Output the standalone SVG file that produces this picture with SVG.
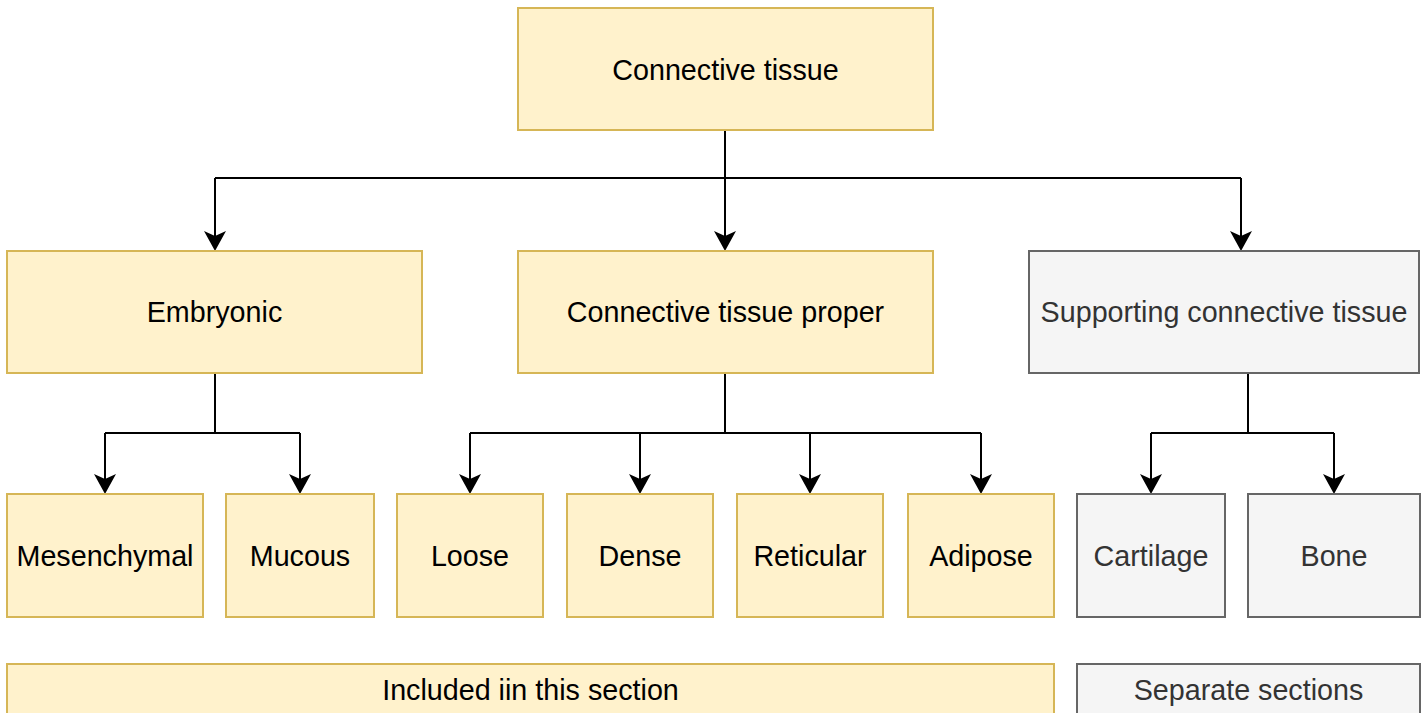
<svg xmlns="http://www.w3.org/2000/svg" width="1427" height="713" viewBox="0 0 1427 713">
  <style>
    .inc rect { fill: #fff2cc; stroke: #d6b656; stroke-width: 2; }
    .sep rect { fill: #f5f5f5; stroke: #666666; stroke-width: 2; }
    text { font-family: "Liberation Sans", Arial, Helvetica, sans-serif; font-size: 28.7px; text-anchor: middle; }
    .inc text { fill: #000000; }
    .sep text { fill: #333333; }
    .edge { fill: none; stroke: #000000; stroke-width: 2; marker-end: url(#arrow); }
    .trunk { fill: none; stroke: #000000; stroke-width: 2; }
  </style>
  <defs>
    <marker id="arrow" markerUnits="userSpaceOnUse" viewBox="0 0 22 22" markerWidth="22" markerHeight="22" refX="5" refY="11" orient="auto">
      <path d="M0,0 L20,11 L0,22 L5,11 Z" fill="#000000"/>
    </marker>
  </defs>

  <rect width="1427" height="713" fill="#ffffff"/>

  <!-- connectors -->
  <g id="connectors">
    <!-- root to level 2 -->
    <path class="trunk" d="M725,130 V178 M215,178 H1241"/>
    <path class="edge" d="M725,178 V236"/>
    <path class="edge" d="M215,178 V236"/>
    <path class="edge" d="M1241,178 V236"/>
    <!-- embryonic -->
    <path class="trunk" d="M215,373 V433 M105,433 H300"/>
    <path class="edge" d="M105,433 V479"/>
    <path class="edge" d="M300,433 V479"/>
    <!-- connective tissue proper -->
    <path class="trunk" d="M725,373 V433 M470,433 H981"/>
    <path class="edge" d="M470,433 V479"/>
    <path class="edge" d="M640,433 V479"/>
    <path class="edge" d="M810,433 V479"/>
    <path class="edge" d="M981,433 V479"/>
    <!-- supporting connective tissue -->
    <path class="trunk" d="M1248,373 V433 M1151,433 H1334"/>
    <path class="edge" d="M1151,433 V479"/>
    <path class="edge" d="M1334,433 V479"/>
  </g>

  <g id="connective-tissue" class="inc">
    <rect x="518" y="8" width="415" height="122"/>
    <text x="725.5" y="79.5">Connective tissue</text>
  </g>

  <g id="embryonic" class="inc">
    <rect x="7" y="251" width="415" height="122"/>
    <text x="214.5" y="322">Embryonic</text>
  </g>
  <g id="connective-tissue-proper" class="inc">
    <rect x="518" y="251" width="415" height="122"/>
    <text x="725.5" y="322">Connective tissue proper</text>
  </g>
  <g id="supporting" class="sep">
    <rect x="1029" y="251" width="390" height="122"/>
    <text x="1224" y="322">Supporting connective tissue</text>
  </g>

  <g id="mesenchymal" class="inc">
    <rect x="7" y="494" width="196" height="123"/>
    <text x="105" y="566">Mesenchymal</text>
  </g>
  <g id="mucous" class="inc">
    <rect x="226" y="494" width="148" height="123"/>
    <text x="300" y="566">Mucous</text>
  </g>
  <g id="loose" class="inc">
    <rect x="397" y="494" width="146" height="123"/>
    <text x="470" y="566">Loose</text>
  </g>
  <g id="dense" class="inc">
    <rect x="567" y="494" width="146" height="123"/>
    <text x="640" y="566">Dense</text>
  </g>
  <g id="reticular" class="inc">
    <rect x="737" y="494" width="146" height="123"/>
    <text x="810" y="566">Reticular</text>
  </g>
  <g id="adipose" class="inc">
    <rect x="908" y="494" width="146" height="123"/>
    <text x="981" y="566">Adipose</text>
  </g>
  <g id="cartilage" class="sep">
    <rect x="1077" y="494" width="148" height="123"/>
    <text x="1151" y="566">Cartilage</text>
  </g>
  <g id="bone" class="sep">
    <rect x="1248" y="494" width="172" height="123"/>
    <text x="1334" y="566">Bone</text>
  </g>

  <!-- legend -->
  <g id="legend-included" class="inc">
    <rect x="7" y="664" width="1047" height="70"/>
    <text x="530.5" y="700">Included iin this section</text>
  </g>
  <g id="legend-separate" class="sep">
    <rect x="1077" y="664" width="343" height="70"/>
    <text x="1248.5" y="700">Separate sections</text>
  </g>
</svg>
